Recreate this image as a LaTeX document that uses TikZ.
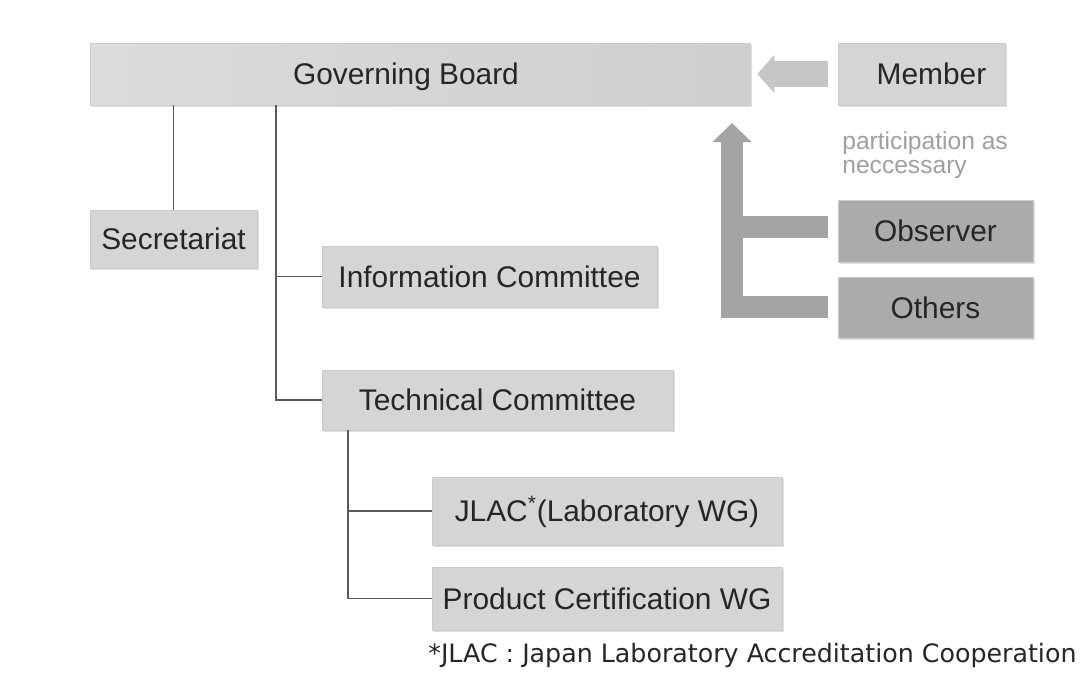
\documentclass[tikz,border=0pt]{standalone}
\usepackage{fontspec}
\setmainfont{Liberation Sans}
\newfontfamily\notefont{DejaVu Sans}
\usetikzlibrary{arrows.meta,calc,shadows}

\definecolor{boxgray}{HTML}{D5D5D5}
\definecolor{darkbox}{HTML}{ABABAB}
\definecolor{linegray}{HTML}{5A5A5A}
\definecolor{arrowlight}{HTML}{C6C6C6}
\definecolor{arrowdark}{HTML}{A4A4A4}
\definecolor{txtgray}{HTML}{262626}

\tikzset{
  unit/.style={draw=gray!40, fill=boxgray, text=txtgray, inner sep=0pt,
    font=\fontsize{17}{20}\selectfont, text height=12.4pt, text depth=0pt,
    drop shadow={shadow xshift=1.2pt, shadow yshift=-1.2pt, opacity=.25, fill=gray}},
  guest/.style={unit, fill=darkbox},
  tie/.style={draw=linegray, line width=0.6pt},
  bigarrow/.style={line join=miter},
}

\begin{document}
\begin{tikzpicture}[x=0.02cm,y=-0.02cm]
\useasboundingbox (0,0) rectangle (1082,677);

% Boards and committees
\node[unit, minimum width=13.2cm, minimum height=1.24cm,
      left color=gray!28, right color=gray!38] (gb) at (420,74) {\hspace*{-0.56cm}Governing Board};
\node[unit, minimum width=3.34cm, minimum height=1.24cm] (member) at (921.5,74) {\hspace*{0.4cm}Member};
\node[unit, minimum width=3.34cm, minimum height=1.16cm] (sec) at (173.5,239) {Secretariat};
\node[guest, minimum width=3.9cm, minimum height=1.24cm] (observer) at (935.5,231) {Observer};
\node[guest, minimum width=3.9cm, minimum height=1.22cm] (others) at (935.5,307.5) {Others};
\node[unit, minimum width=6.7cm, minimum height=1.22cm] (info) at (489.5,276.5) {Information Committee};
\node[unit, minimum width=7.02cm, minimum height=1.2cm] (tech) at (497.5,400) {Technical Committee};
\node[unit, minimum width=7cm, minimum height=1.36cm] (jlac) at (607,511) {JLAC\textsuperscript{*}(Laboratory WG)};
\node[unit, minimum width=7cm, minimum height=1.26cm] (pcwg) at (607,598.5) {Product Certification WG};

% Notes
\node[anchor=north west, align=left, text=gray!75, inner sep=0pt,
      font=\fontsize{14}{14}\selectfont] (note) at (842,131) {participation as\\neccessary};
\node[anchor=west, inner sep=0pt, text=txtgray,
      font=\notefont\fontsize{14.4}{16}\selectfont] (foot) at (428,656)
      {*JLAC : Japan Laboratory Accreditation Cooperation};

% Tree lines
\coordinate (trunk) at (276,105);
\coordinate (wgtrunk) at (348,430);
\draw[tie] (sec.north) -- (sec.north |- gb.south);
\draw[tie] (trunk) |- (info.west);
\draw[tie] (trunk) |- (tech.west);
\draw[tie] (wgtrunk) |- (jlac.west);
\draw[tie] (wgtrunk) |- (pcwg.west);

% Participation arrows
\coordinate (risetop) at (732,123);
\draw[bigarrow, draw=arrowlight, line width=0.52cm,
      -{Triangle[length=0.34cm,width=0.74cm]}]
      ($(member.west)+(-10,0)$) -- ($(gb.east)+(7,0)$);
\draw[bigarrow, draw=arrowdark, line width=0.44cm,
      -{Triangle[length=0.38cm,width=0.76cm]}]
      ($(others.west)+(-10,-1)$) -| (risetop);
\draw[bigarrow, draw=arrowdark, line width=0.44cm]
      ($(observer.west)+(-10,-4)$) -- ($(observer.west -| risetop)+(0,-4)$);
\end{tikzpicture}
\end{document}
